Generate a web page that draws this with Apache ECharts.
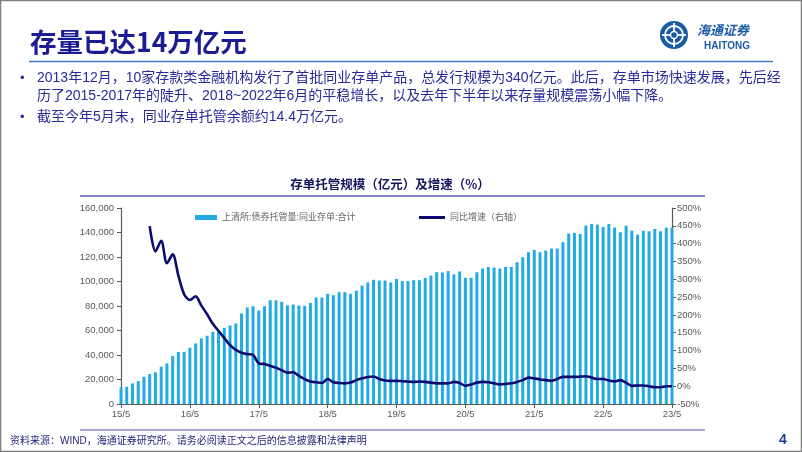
<!DOCTYPE html>
<html><head><meta charset="utf-8">
<script src="https://cdn.jsdelivr.net/npm/echarts@6/dist/echarts.min.js"></script>
<style>html,body{margin:0;padding:0;background:#fff}#c{width:802px;height:452px}</style>
</head><body><div id="c"></div>
<script>
// Months 2015/5 .. 2023/5
const startYear = 15, startMonth = 5, monthCount = 97;
const categories = [];
for (let k = 0; k < monthCount; k++) {
  const m = (startMonth - 1 + k) % 12 + 1;
  const y = startYear + Math.floor((startMonth - 1 + k) / 12);
  categories.push(y + '/' + m);
}
// 上清所:债券托管量:同业存单:合计 (亿元)
const custodyValues = [
  13600,14100,16800,18700,22200,24400,25800,30400,33100,39100,42400,42600,
  45900,49400,53500,55700,58900,59500,62200,64100,65700,73900,78800,79800,
  76300,79800,84700,84700,83400,80600,81200,80400,80100,82500,86900,86900,
  89900,88800,91300,91300,89900,92600,96700,99200,101400,100800,100800,99200,
  102100,100300,100300,101100,101100,103000,104900,107600,107400,108500,105800,108200,
  103000,103000,107600,110600,111900,111400,110600,111900,111900,115700,119800,123900,
  125800,123900,125200,126900,126900,132100,139100,139700,138800,145600,147000,146400,
  144500,147000,144000,140200,145600,141500,138300,141500,141000,142900,141000,144000,
  144000
];
// 同比增速 (%)
const yoyValues = [
  null,null,null,null,null,449,378,408,345,370,310,258,
  242,252,226,202,175,155,135,115,102,94,90,88,
  64,62,57,52,45,38,39,29,20,13,11,9,
  20,11,9,8,10,17,22,26,27,20,16,15,
  15,14,13,12,13,12,10,8,8,8,12,9,
  1,5,10,12,11,8,5,6,8,12,17,24,
  22,19,17,15,20,26,26,26,27,28,24,20,
  20,16,13,17,10,1,2,2,0,-3,-3,0,
  0
];
const leftTicks = {min: 0, max: 160000, interval: 20000};
const rightTicks = {min: -50, max: 500, interval: 50};

const seriesNames = ['上清所:债券托管量:同业存单:合计', '同比增速（右轴）'];
const pageTitle = '存量已达14万亿元';
const bullets = [
  '2013年12月，10家存款类金融机构发行了首批同业存单产品，总发行规模为340亿元。此后，存单市场快速发展，先后经',
  '历了2015-2017年的陡升、2018~2022年6月的平稳增长，以及去年下半年以来存量规模震荡小幅下降。',
  '截至今年5月末，同业存单托管余额约14.4万亿元。'
];
const chartTitle = '存单托管规模（亿元）及增速（%）';
const footer = '资料来源：WIND，海通证券研究所。请务必阅读正文之后的信息披露和法律声明';

const CJK = '"Liberation Sans","Noto Sans CJK SC",sans-serif';
const axisColor = '#595959';
const chart = echarts.init(document.getElementById('c'), null, {renderer: 'canvas'});
const txt = (text, x, y, font, fill, extra) => Object.assign({
  type: 'text', x: x, y: y,
  style: Object.assign({text: text, font: font, fill: fill, textVerticalAlign: 'middle'}, extra || {})
});
chart.setOption({
  animation: false,
  grid: {left: 121, right: 130, top: 208, bottom: 48},
  legend: [
    {data: [seriesNames[0]], left: 190, top: 208, itemWidth: 22, itemHeight: 5,
     icon: 'rect', textStyle: {fontSize: 9, color: '#666', fontFamily: CJK}},
    {data: [seriesNames[1]], left: 414, top: 208, itemWidth: 26, itemHeight: 3, icon: 'rect',
     textStyle: {fontSize: 9, color: '#666', fontFamily: CJK}}
  ],
  xAxis: {
    type: 'category', data: categories, boundaryGap: false,
    axisLine: {lineStyle: {color: axisColor, width: 1.2}},
    axisTick: {interval: 11, length: 4, lineStyle: {color: axisColor}},
    axisLabel: {interval: 11, color: axisColor, fontSize: 9.5, fontFamily: 'Liberation Sans', margin: 5}
  },
  yAxis: [
    Object.assign({type: 'value', position: 'left', splitLine: {show: false},
      axisLine: {show: true, lineStyle: {color: axisColor, width: 1.2}},
      axisTick: {show: true, length: 4, lineStyle: {color: axisColor}},
      axisLabel: {color: axisColor, fontSize: 9.5, fontFamily: 'Liberation Sans', margin: 7}}, leftTicks),
    Object.assign({type: 'value', position: 'right', splitLine: {show: false},
      axisLine: {show: true, lineStyle: {color: axisColor, width: 1.2}},
      axisTick: {show: true, length: 4, lineStyle: {color: axisColor}},
      axisLabel: {color: axisColor, fontSize: 9.5, fontFamily: 'Liberation Sans', margin: 5, formatter: '{value}%'}}, rightTicks)
  ],
  series: [
    {name: seriesNames[0], type: 'bar', data: custodyValues, barWidth: 3,
     itemStyle: {color: '#22AAE2'}},
    {name: seriesNames[1], type: 'line', yAxisIndex: 1, data: yoyValues, showSymbol: false,
     smooth: 0.3, lineStyle: {color: '#0C0C70', width: 2.6}, itemStyle: {color: '#0C0C70'}}
  ],
  graphic: [
    {type: 'rect', shape: {x: 0.5, y: 0.5, width: 801, height: 451}, style: {fill: null, stroke: '#7f7f7f', lineWidth: 1.5}},
    txt(pageTitle, 30, 42, 'bold 26.5px "Noto Sans CJK SC"', '#1B1B92'),
    {type: 'line', shape: {x1: 29, y1: 61.5, x2: 773, y2: 61.5}, style: {stroke: '#3B7CC0', lineWidth: 1.5}},
    // logo
    {type: 'circle', shape: {cx: 674, cy: 35, r: 14}, style: {fill: '#1D5AA6'}},
    {type: 'circle', shape: {cx: 674, cy: 35, r: 9}, style: {fill: null, stroke: '#fff', lineWidth: 1.8}},
    {type: 'line', shape: {x1: 662, y1: 35, x2: 686, y2: 35}, style: {stroke: '#fff', lineWidth: 1.8}},
    {type: 'line', shape: {x1: 674, y1: 23, x2: 674, y2: 47}, style: {stroke: '#fff', lineWidth: 1.8}},
    {type: 'circle', shape: {cx: 674, cy: 35, r: 3.5}, style: {fill: '#1D5AA6', stroke: '#fff', lineWidth: 1.4}},
    txt('海通证券', 697, 30, 'italic bold 13px "Noto Sans CJK SC"', '#1D5AA6'),
    txt('HAITONG', 704, 46, 'bold 10px "Liberation Sans"', '#1D5AA6'),
    // bullets
    txt('•', 20, 78, '13px "Liberation Sans"', '#2A2A9A'),
    txt(bullets[0], 37, 78, '14px ' + CJK, '#2A2A9A'),
    txt(bullets[1], 37, 96, '14px ' + CJK, '#2A2A9A'),
    txt('•', 20, 117, '13px "Liberation Sans"', '#2A2A9A'),
    txt(bullets[2], 37, 117, '14px ' + CJK, '#2A2A9A'),
    // chart title
    txt(chartTitle, 390, 184, 'bold 12.5px "Noto Sans CJK SC"', '#15155E', {textAlign: 'center'}),
    {type: 'line', shape: {x1: 80, y1: 196, x2: 705, y2: 196}, style: {stroke: '#5A5AB0', lineWidth: 1.3}},
    {type: 'line', shape: {x1: 80, y1: 430, x2: 705, y2: 430}, style: {stroke: '#8A8AD0', lineWidth: 1.3}},
    txt(footer, 10, 441, '10px ' + CJK, '#1E1E78'),
    txt('4', 779, 440, 'bold 14px "Liberation Sans"', '#1E3C96')
  ]
});
</script></body></html>
